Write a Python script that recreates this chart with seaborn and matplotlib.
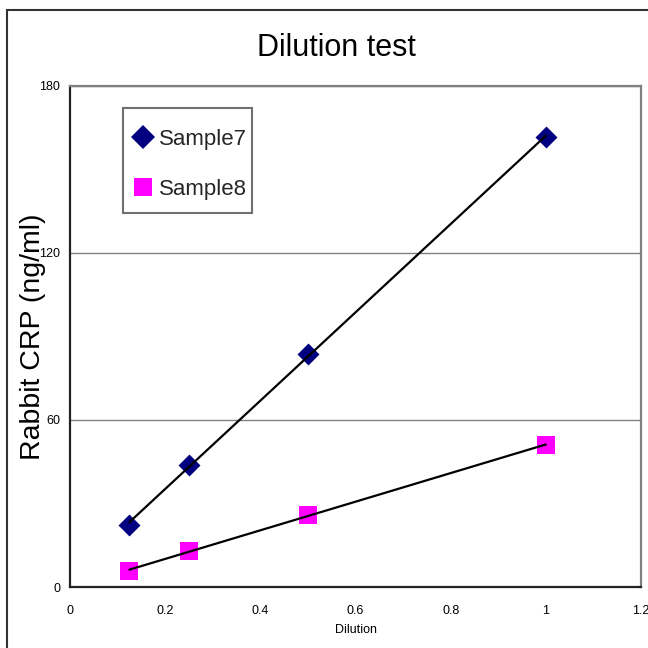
import numpy as np
import pandas as pd
import matplotlib
matplotlib.use("Agg")
import matplotlib.pyplot as plt
from matplotlib.lines import Line2D
from matplotlib.patches import Rectangle
import seaborn as sns

# ---- data ----
dilution = [0.125, 0.25, 0.5, 1.0]
sample7 = [22.3, 43.8, 83.6, 161.7]
sample8 = [5.8, 12.9, 25.9, 51.0]
series_names = ["Sample7", "Sample8"]
x_ticks = [0, 0.2, 0.4, 0.6, 0.8, 1, 1.2]
x_tick_labels = ["0", "0.2", "0.4", "0.6", "0.8", "1", "1.2"]
y_ticks = [0, 60, 120, 180]
y_tick_labels = ["0", "60", "120", "180"]

df = pd.DataFrame({
    "Dilution": dilution * 2,
    "CRP": sample7 + sample8,
    "Series": [series_names[0]] * 4 + [series_names[1]] * 4,
})

sns.set_theme(style="white")
plt.rcParams["font.family"] = ["Liberation Sans", "DejaVu Sans"]

fig = plt.figure(figsize=(6.48, 6.48), dpi=100)
ax = fig.add_axes([70 / 648, 1 - 587 / 648, 571 / 648, 501 / 648])

colors = {"Sample7": "#000080", "Sample8": "#FF00FF"}
markers = {"Sample7": "D", "Sample8": "s"}
sizes = {"Sample7": 125, "Sample8": 165}

for name in series_names:
    sub = df[df["Series"] == name]
    sns.regplot(data=sub, x="Dilution", y="CRP", ax=ax, scatter=False, ci=None,
                truncate=True, line_kws=dict(color="black", lw=1.6, zorder=4))
    sns.scatterplot(data=sub, x="Dilution", y="CRP", ax=ax, marker=markers[name],
                    color=colors[name], s=sizes[name], linewidth=0, zorder=3,
                    legend=False)

ax.set_xlim(0, 1.2)
ax.set_ylim(0, 180)
ax.set_xticks(x_ticks)
ax.set_xticklabels(x_tick_labels)
ax.set_yticks(y_ticks)
ax.set_yticklabels(y_tick_labels)
ax.tick_params(axis="both", direction="in", length=4, width=1, colors="#333333",
               labelsize=9, labelcolor="black")
ax.tick_params(axis="x", pad=13)
ax.tick_params(axis="y", pad=7)
ax.yaxis.grid(True, color="#808080", lw=1)
ax.xaxis.grid(False)
ax.set_axisbelow(True)

for side in ["left", "bottom"]:
    ax.spines[side].set_color("#222222")
    ax.spines[side].set_linewidth(1.6)
for side in ["top", "right"]:
    ax.spines[side].set_color("#808080")
    ax.spines[side].set_linewidth(1.6)

ax.set_xlabel("Dilution", fontsize=9, color="black")
ax.xaxis.set_label_coords(0.5, -0.074)
ax.set_ylabel("Rabbit CRP (ng/ml)", fontsize=20.5, color="black")
ax.yaxis.set_label_coords(-0.042, 0.5)

fig.text(336 / 648, 1 - 48 / 648, "Dilution test", ha="center", va="center",
         fontsize=22, color="black")

handles = [Line2D([], [], marker=markers[n], color=colors[n], linestyle="none",
                  markersize=12 if n == "Sample7" else 12.5, markeredgewidth=0)
           for n in series_names]
leg = ax.legend(handles, series_names, loc="upper left",
                bbox_to_anchor=((123 - 70) / 571, (587 - 117) / 501),
                frameon=False, fontsize=16, labelspacing=1.29, handlelength=0.7,
                handletextpad=0.35, borderpad=0.55, borderaxespad=0)
leg.set_zorder(6)
ax.add_patch(Rectangle(((123 - 70) / 571, (587 - 213) / 501), 129 / 571, 105 / 501,
                       transform=ax.transAxes, facecolor="white",
                       edgecolor="#707070", lw=1.5, zorder=5))

fig.patches.append(Rectangle((7 / 648, -0.1), 1.2, 1.1 - 10 / 648 + 0.0,
                             transform=fig.transFigure, fill=False,
                             edgecolor="#333333", lw=1.5))

fig.savefig("out.png", dpi=100)
